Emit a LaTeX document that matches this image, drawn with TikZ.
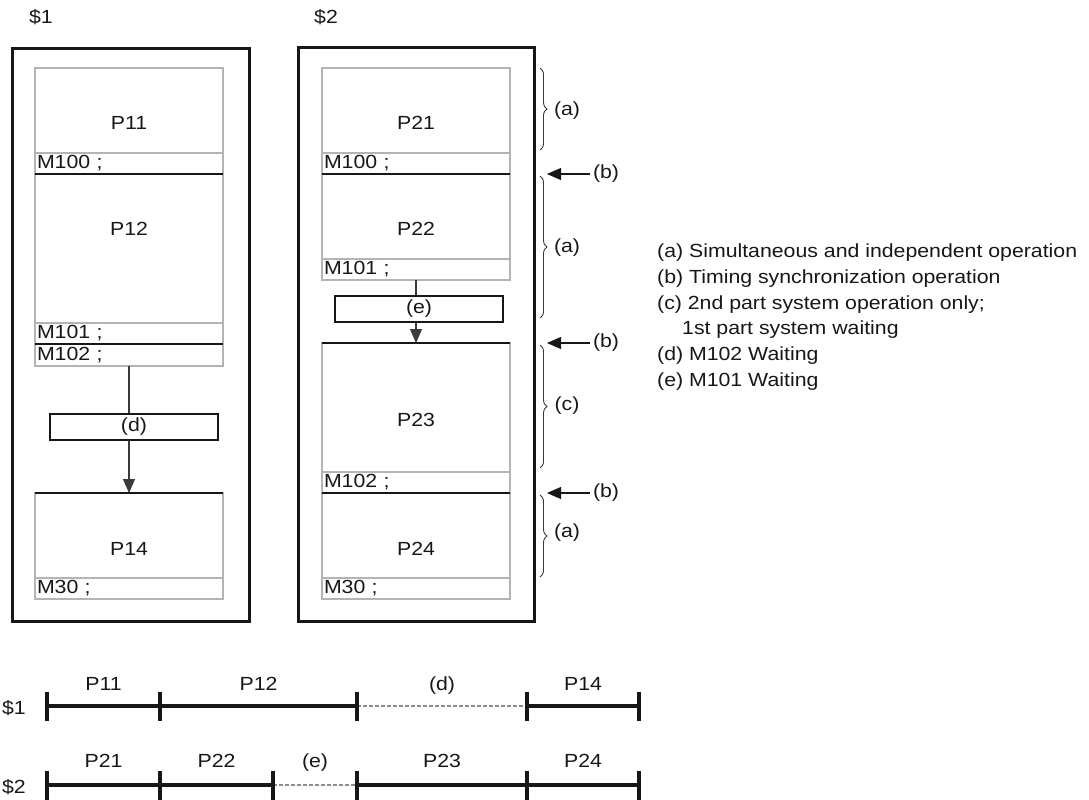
\documentclass[tikz,border=0pt]{standalone}
\usepackage{fontspec}
\setmainfont{Liberation Sans}[FakeStretch=1.12]
\usetikzlibrary{positioning, arrows.meta, decorations.pathreplacing}
\definecolor{ink}{RGB}{25,22,23}
\definecolor{boxgray}{RGB}{180,180,180}
\definecolor{idlegray}{RGB}{140,140,140}
\tikzset{
  lbl/.style={font=\fontsize{19}{23}\selectfont, text=ink, inner sep=0pt},
  frame/.style={draw=ink, line width=3pt, minimum width=237pt, minimum height=573pt, anchor=north west},
  prog/.style={lbl, draw=boxgray, line width=2pt, rectangle, outer sep=0pt,
    minimum width=188pt, minimum height=85pt},
  mrow/.style={prog, minimum height=21pt, text width=184pt, align=left, inner xsep=2pt},
  sync/.style={draw=ink, line width=2.6pt},
  waitbox/.style={lbl, draw=ink, line width=1.1pt, minimum width=168pt, minimum height=26pt},
  flow/.style={draw=ink!85, line width=1.1pt},
  syncarrow/.style={draw=ink, line width=1.1pt, -{Triangle[length=14pt,width=12pt]}},
  span/.style={draw=ink!85, line width=0.9pt, decorate, decoration={brace, amplitude=7pt}},
  seg/.style={draw=ink, line width=3.3pt},
  idle/.style={draw=idlegray, line width=1.6pt, dash pattern=on 4pt off 2pt},
}

\begin{document}
\begin{tikzpicture}[x=1pt, y=-1pt]
  \useasboundingbox (0,0) rectangle (1089,800);

  % part system 1
  \node[lbl] (S1) at (41,17) {\$1};
  \node[frame] (F1) at (11,47) {};
  \node[prog, anchor=north west] (P11) at (35,68) {};
  \node[mrow, below=0pt of P11] (M100a) {M100 ;};
  \node[prog, below=0pt of M100a, minimum height=149pt] (P12) {};
  \node[mrow, below=0pt of P12] (M101a) {M101 ;};
  \node[mrow, below=0pt of M101a, minimum height=22pt] (M102a) {M102 ;};
  \node[waitbox] (dwait) at (134,427) {(d)};
  \node[prog, anchor=north west] (P14) at (35,493) {};
  \node[mrow, below=0pt of P14] (M30a) {M30 ;};

  \node[lbl] at ([yshift=-55pt]P11.north) {P11};
  \node[lbl] at ([yshift=-55pt]P12.north) {P12};
  \node[lbl] at ([yshift=-56pt]P14.north) {P14};

  \draw[sync] (M100a.south west) -- (M100a.south east);
  \draw[sync] (M101a.south west) -- (M101a.south east);
  \draw[sync] (P14.north west) -- (P14.north east);

  \draw[flow] (M102a.south) -- (M102a.south |- dwait.north);
  \draw[flow, -{Triangle[length=14pt,width=12pt]}] (M102a.south |- dwait.south) -- (P14.north);

  % part system 2
  \node[lbl] (S2) at (326,17) {\$2};
  \node[frame, minimum width=236pt, minimum height=574pt] (F2) at (297,46) {};
  \node[prog, anchor=north west] (P21) at (322,68) {};
  \node[mrow, below=0pt of P21] (M100b) {M100 ;};
  \node[prog, below=0pt of M100b] (P22) {};
  \node[mrow, below=0pt of P22] (M101b) {M101 ;};
  \node[waitbox] (ewait) at (419,309) {(e)};
  \node[prog, anchor=north west, minimum height=129pt] (P23) at (322,343) {};
  \node[mrow, below=0pt of P23] (M102b) {M102 ;};
  \node[prog, below=0pt of M102b] (P24) {};
  \node[mrow, below=0pt of P24] (M30b) {M30 ;};

  \node[lbl] at ([yshift=-55pt]P21.north) {P21};
  \node[lbl] at ([yshift=-55pt]P22.north) {P22};
  \node[lbl] at ([yshift=-77pt]P23.north) {P23};
  \node[lbl] at ([yshift=-56pt]P24.north) {P24};

  \draw[sync] (M100b.south west) -- (M100b.south east);
  \draw[sync] (P23.north west) -- (P23.north east);
  \draw[sync] (M102b.south west) -- (M102b.south east);

  \draw[flow] (M101b.south) -- (M101b.south |- ewait.north);
  \draw[flow, -{Triangle[length=14pt,width=12pt]}] (M101b.south |- ewait.south) -- (P23.north);

  % braces and sync marks
  \draw[span] (540,68) -- (540,150);
  \node[lbl] (ga1) at (567,111) {(a)};
  \draw[span] (540,176) -- (540,318);
  \node[lbl] (ga2) at (567,248) {(a)};
  \draw[span] (540,345) -- (540,468);
  \node[lbl] (gc) at (567,406) {(c)};
  \draw[span] (540,495) -- (540,577);
  \node[lbl] (ga3) at (567,533) {(a)};

  \node[lbl] (gb1) at (606,174) {(b)};
  \node[lbl] (gb2) at (606,343) {(b)};
  \node[lbl] (gb3) at (606,493) {(b)};
  \coordinate (tb1) at (547,174);
  \coordinate (tb2) at (547,343);
  \coordinate (tb3) at (547,493);
  \draw[syncarrow] ([xshift=-3pt]gb1.west) -- (tb1);
  \draw[syncarrow] ([xshift=-3pt]gb2.west) -- (tb2);
  \draw[syncarrow] ([xshift=-3pt]gb3.west) -- (tb3);

  % legend
  \node[lbl, anchor=base west] (leg1) at (657,257) {(a) Simultaneous and independent operation};
  \node[lbl, anchor=base west] (leg2) at (657,283) {(b) Timing synchronization operation};
  \node[lbl, anchor=base west] (leg3) at (657,309) {(c) 2nd part system operation only;};
  \node[lbl, anchor=base west] (leg4) at (682,334) {1st part system waiting};
  \node[lbl, anchor=base west] (leg5) at (657,360) {(d) M102 Waiting};
  \node[lbl, anchor=base west] (leg6) at (657,386) {(e) M101 Waiting};

  % time lines
  \node[lbl] (T1) at (14,708) {\$1};
  \node[lbl] (T2) at (14,787) {\$2};
  \coordinate (t10) at (47,706);
  \coordinate (t11) at (160,706);
  \coordinate (t12) at (357,706);
  \coordinate (t13) at (527,706);
  \coordinate (t14) at (639,706);
  \coordinate (t20) at (47,785);
  \coordinate (t21) at (160,785);
  \coordinate (t22) at (273,785);
  \coordinate (t23) at (357,785);
  \coordinate (t24) at (527,785);
  \coordinate (t25) at (639,785);

  \draw[seg] (t10) -- (t11) -- (t12);
  \draw[idle] (t12) -- (t13);
  \draw[seg] (t13) -- (t14);
  \draw[seg] (t20) -- (t21) -- (t22);
  \draw[idle] (t22) -- (t23);
  \draw[seg] (t23) -- (t24) -- (t25);
  \foreach \t in {t10,t11,t12,t13,t14,t20,t21,t22,t23,t24,t25}
    \draw[seg] ([yshift=14.5pt]\t) -- ([yshift=-14.5pt]\t);

  \path (t10) -- node[lbl, anchor=base, yshift=16pt] (l11) {P11} (t11);
  \path (t11) -- node[lbl, anchor=base, yshift=16pt] (l12) {P12} (t12);
  \path (t12) -- node[lbl, anchor=base, yshift=16pt] (l1d) {(d)} (t13);
  \path (t13) -- node[lbl, anchor=base, yshift=16pt] (l14) {P14} (t14);
  \path (t20) -- node[lbl, anchor=base, yshift=18pt] (l21) {P21} (t21);
  \path (t21) -- node[lbl, anchor=base, yshift=18pt] (l22) {P22} (t22);
  \path (t22) -- node[lbl, anchor=base, yshift=18pt] (l2e) {(e)} (t23);
  \path (t23) -- node[lbl, anchor=base, yshift=18pt] (l23) {P23} (t24);
  \path (t24) -- node[lbl, anchor=base, yshift=18pt] (l24) {P24} (t25);
\end{tikzpicture}
\end{document}
